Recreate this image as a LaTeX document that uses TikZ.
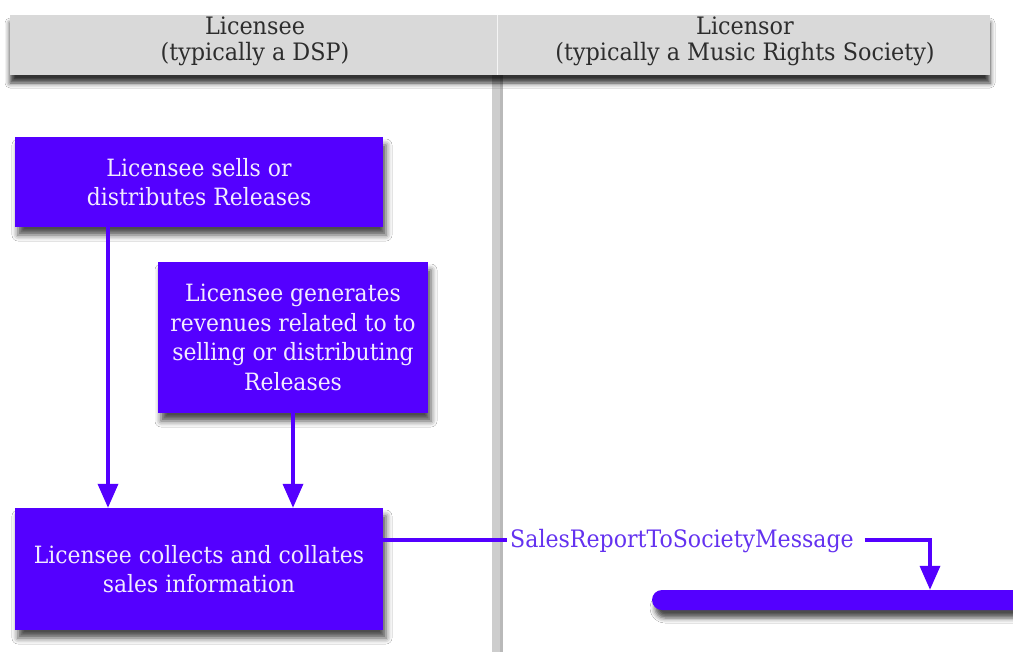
\documentclass[tikz,border=0pt]{standalone}
\usepackage{fontspec}
\setmainfont{DejaVu Serif}
\newfontfamily\hdrfont[FakeStretch=0.93]{DejaVu Serif}
\newfontfamily\boxfont[FakeStretch=0.92]{DejaVu Serif}
\usetikzlibrary{arrows.meta,shadows.blur}
\definecolor{lp}{RGB}{84,0,255}
\definecolor{boxtxt}{RGB}{242,236,255}
\definecolor{lbltxt}{RGB}{100,50,240}
\definecolor{hdr}{RGB}{217,217,217}
\definecolor{lanegray}{RGB}{205,205,205}
\definecolor{hdrtxt}{RGB}{45,45,45}
\tikzset{
  box/.style={fill=lp, text=boxtxt, align=center, inner sep=0pt,
    font=\boxfont\fontsize{23.8}{29.5}\selectfont,
    blur shadow={shadow xshift=3pt, shadow yshift=-8pt, shadow blur radius=6pt, shadow opacity=70}},
  hdrlabel/.style={text=hdrtxt, align=center, inner sep=0pt, font=\hdrfont\fontsize{24}{26}\selectfont},
  wire/.style={draw=lp, line width=3.5pt},
  conn/.style={wire, -{Triangle[width=20pt,length=24pt]}},
  msg/.style={fill=white, text=lbltxt, inner sep=3pt, font=\boxfont\fontsize{24}{26}\selectfont}
}
\begin{document}
\begin{tikzpicture}[x=1pt,y=-1pt]
\useasboundingbox (0,0) rectangle (1013,657);
\fill[white] (0,0) rectangle (1013,657);
% lane line
\fill[lanegray] (492,70) rectangle (503,652);
\fill[gray!55] (500,70) rectangle (503,652);
% header
\path[fill=hdr, blur shadow={shadow xshift=0pt, shadow yshift=-8pt, shadow blur radius=5pt, shadow opacity=80}] (10,15) rectangle (990,75);
\draw[white!92!gray, line width=1pt] (497,15) -- (497,75);
\node[hdrlabel] (h1) at (255,41) {Licensee\\(typically a DSP)};
\node[hdrlabel] (h2) at (745,41) {Licensor\\(typically a Music Rights Society)};
% boxes
\node[box, minimum width=368pt, minimum height=90pt] (b1) at (199,182) {Licensee sells or\\distributes Releases};
\node[box, minimum width=270pt, minimum height=151pt] (b2) at (293,337.5) {Licensee generates\\revenues related to to\\selling or distributing\\Releases};
\node[box, minimum width=368pt, minimum height=122pt] (b3) at (199,569) {Licensee collects and collates\\sales information};
% right bar
\node[fill=lp, minimum width=378pt, minimum height=20pt, inner sep=0pt, rounded corners=10pt,
  blur shadow={shadow xshift=3pt, shadow yshift=-8pt, shadow blur radius=5pt, shadow opacity=70}] (bar) at (841,600) {};
% connectors
\draw[conn] ([xshift=-91pt]b1.south) -- ([xshift=-91pt]b1.south |- b3.north);
\draw[conn] (b2.south) -- (b2.south |- b3.north);
\node[msg] (lbl) at (682,541) {SalesReportToSocietyMessage};
\draw[wire] ([yshift=29pt]b3.east) -- ([yshift=29pt]b3.east -| lbl.west);
\coordinate (c1) at (930,540);
\draw[conn, shorten <=8pt] (lbl.east |- c1) -- (c1) -- (c1 |- bar.north);
\end{tikzpicture}
\end{document}
